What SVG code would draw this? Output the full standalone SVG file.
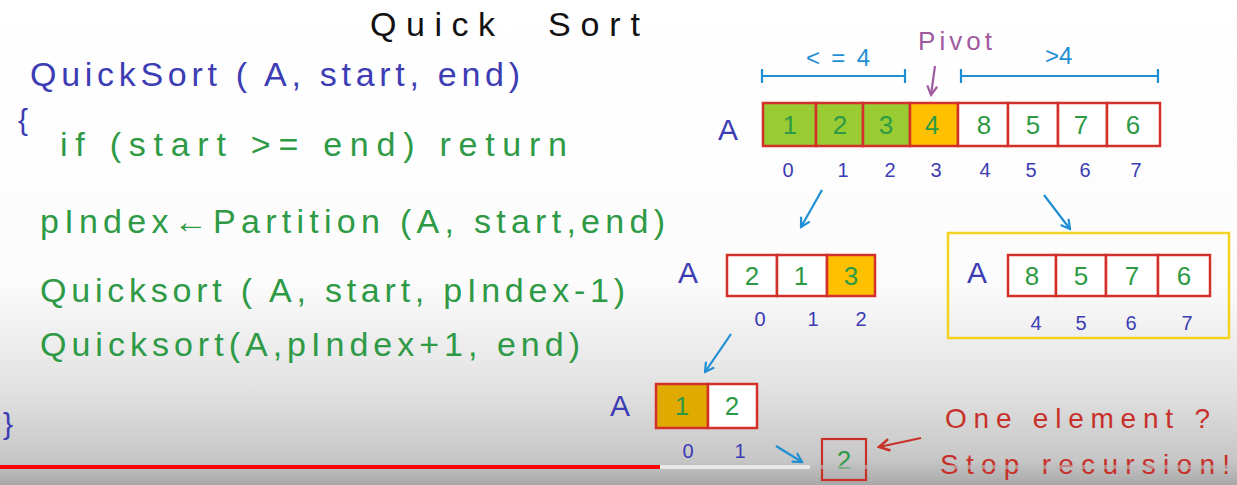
<svg xmlns="http://www.w3.org/2000/svg" width="1237" height="485" viewBox="0 0 1237 485">
<defs>
<linearGradient id="bg" x1="0" y1="0" x2="0" y2="1">
<stop offset="0" stop-color="#ffffff"/>
<stop offset="0.58" stop-color="#fcfcfc"/>
<stop offset="0.8" stop-color="#e2e2e2"/>
<stop offset="0.95" stop-color="#c6c6c6"/>
<stop offset="1" stop-color="#a8a8a8"/>
</linearGradient>
<marker id="hb" viewBox="0 0 12 12" refX="10" refY="6" markerWidth="12" markerHeight="12" markerUnits="userSpaceOnUse" orient="auto"><path d="M1,1 L10,6 L1,11" fill="none" stroke="#1f8fd4" stroke-width="2.2"/></marker>
<marker id="hp" viewBox="0 0 12 12" refX="10" refY="6" markerWidth="12" markerHeight="12" markerUnits="userSpaceOnUse" orient="auto"><path d="M1,1 L10,6 L1,11" fill="none" stroke="#a05aa0" stroke-width="2.2"/></marker>
<marker id="hr" viewBox="0 0 12 12" refX="10" refY="6" markerWidth="14" markerHeight="14" markerUnits="userSpaceOnUse" orient="auto"><path d="M1,1 L10,6 L1,11" fill="none" stroke="#c8302a" stroke-width="2.2"/></marker>
</defs>
<style>
text{font-family:"Liberation Sans","DejaVu Sans",sans-serif}
.code{font-size:34px;lengthAdjust:spacing}
.blue{fill:#3c3cb4}
.green{fill:#2e9a46}
.cell{stroke:#d4302a;stroke-width:2.5}
.w{fill:#ffffff}
.lime{fill:#99cc33}
.orng{fill:#ffc000}
.num{font-size:26px;fill:#2e9a46;text-anchor:middle}
.idx{font-size:20px;fill:#3c3cb4;text-anchor:middle}
.lblA{font-size:30px;fill:#3c3cb4}
.conn{stroke:#1f8fd4;stroke-width:2.2;fill:none}
.red{fill:#c8302a}
</style>
<rect x="0" y="0" width="1237" height="485" fill="url(#bg)"/>

<g id="title"><text x="370" y="36" font-size="34" fill="#111" textLength="125" lengthAdjust="spacing">Quick</text><text x="548" y="36" font-size="34" fill="#111" textLength="92" lengthAdjust="spacing">Sort</text></g>

<g id="code">
<text class="code blue" x="30" y="86" textLength="490" lengthAdjust="spacing">QuickSort ( A, start, end)</text>
<text class="blue" x="18" y="130" font-size="30">{</text>
<text class="code green" x="60" y="156" textLength="507" lengthAdjust="spacing">if (start &gt;= end) return</text>
<text class="code green" x="40" y="233" textLength="625" lengthAdjust="spacing">pIndex←Partition (A, start,end)</text>
<text class="code green" x="40" y="302" textLength="585" lengthAdjust="spacing">Quicksort ( A, start, pIndex-1)</text>
<text class="code green" x="40" y="356" textLength="540" lengthAdjust="spacing">Quicksort(A,pIndex+1, end)</text>
<text class="blue" x="3" y="434" font-size="30">}</text>
</g>

<g id="partition-labels">
<text x="806" y="66" font-size="24" fill="#1f8fd4" textLength="64" lengthAdjust="spacing">&lt;=4</text>
<text x="1045" y="64" font-size="24" fill="#1f8fd4">&gt;4</text>
<text x="918" y="50" font-size="26" fill="#a05aa0" textLength="74" lengthAdjust="spacing">Pivot</text>
</g>

<g id="array-top">
<text class="lblA" x="718" y="140">A</text>
<rect class="cell lime" x="763" y="103" width="53" height="43"/>
<rect class="cell lime" x="816" y="103" width="47" height="43"/>
<rect class="cell lime" x="863" y="103" width="47" height="43"/>
<rect class="cell orng" x="910" y="103" width="48" height="43"/>
<rect class="cell w" x="958" y="103" width="50" height="43"/>
<rect class="cell w" x="1008" y="103" width="50" height="43"/>
<rect class="cell w" x="1058" y="103" width="49" height="43"/>
<rect class="cell w" x="1107" y="103" width="53" height="43"/>
<text class="num" x="790" y="134">1</text><text class="num" x="840" y="134">2</text><text class="num" x="886" y="134">3</text><text class="num" x="932" y="134">4</text>
<text class="num" x="984" y="134">8</text><text class="num" x="1033" y="134">5</text><text class="num" x="1081" y="134">7</text><text class="num" x="1133" y="134">6</text>
<text class="idx" x="788" y="177">0</text><text class="idx" x="843" y="177">1</text><text class="idx" x="890" y="177">2</text><text class="idx" x="936" y="177">3</text>
<text class="idx" x="985" y="177">4</text><text class="idx" x="1031" y="177">5</text><text class="idx" x="1085" y="177">6</text><text class="idx" x="1136" y="177">7</text>
</g>

<g id="array-left">
<text class="lblA" x="678" y="283">A</text>
<rect class="cell w" x="727" y="255" width="50" height="41"/>
<rect class="cell w" x="777" y="255" width="50" height="41"/>
<rect class="cell orng" x="827" y="255" width="48" height="41"/>
<text class="num" x="752" y="285">2</text><text class="num" x="801" y="285">1</text><text class="num" x="851" y="285">3</text>
<text class="idx" x="760" y="326">0</text><text class="idx" x="813" y="326">1</text><text class="idx" x="861" y="326">2</text>
</g>

<g id="array-right">
<rect x="948" y="233" width="281" height="105" fill="none" stroke="#f2d21e" stroke-width="2.5"/>
<text class="lblA" x="967" y="283">A</text>
<rect class="cell w" x="1008" y="255" width="48" height="41"/>
<rect class="cell w" x="1056" y="255" width="50" height="41"/>
<rect class="cell w" x="1106" y="255" width="52" height="41"/>
<rect class="cell w" x="1158" y="255" width="52" height="41"/>
<text class="num" x="1032" y="285">8</text><text class="num" x="1081" y="285">5</text><text class="num" x="1132" y="285">7</text><text class="num" x="1184" y="285">6</text>
<text class="idx" x="1036" y="330">4</text><text class="idx" x="1081" y="330">5</text><text class="idx" x="1131" y="330">6</text><text class="idx" x="1187" y="330">7</text>
</g>

<g id="array-bottom">
<text class="lblA" x="610" y="416">A</text>
<rect class="cell" fill="#e0aa00" x="656" y="384" width="52" height="44"/>
<rect class="cell w" x="708" y="384" width="49" height="44"/>
<text class="num" x="682" y="415">1</text><text class="num" x="732" y="415">2</text>
<text class="idx" x="688" y="458">0</text><text class="idx" x="740" y="458">1</text>
</g>

<g id="single">
<rect x="822" y="439" width="44" height="41" fill="none" stroke="#c8302a" stroke-width="2.2"/>
<text class="num" x="844" y="469">2</text>
</g>

<g id="note">
<text class="red" x="945" y="428" font-size="28" textLength="265" lengthAdjust="spacing">One element ?</text>
<text class="red" x="940" y="474" font-size="28" textLength="290" lengthAdjust="spacing">Stop recursion!</text>
</g>

<g id="connectors">
<path class="conn" d="M762,69 V83 M762,76 H905 M905,69 V83"/>
<path class="conn" d="M961,69 V83 M961,76 H1158 M1158,69 V83"/>
<path d="M935,66 L931,95" stroke="#a05aa0" stroke-width="2.2" fill="none" marker-end="url(#hp)"/>
<path class="conn" d="M822,190 L801,227" marker-end="url(#hb)"/>
<path class="conn" d="M1044,195 L1070,229" marker-end="url(#hb)"/>
<path class="conn" d="M731,334 L705,372" marker-end="url(#hb)"/>
<path class="conn" d="M776,446 L802,462" marker-end="url(#hb)"/>
<path d="M921,438 L879,447" stroke="#c8302a" stroke-width="2.2" fill="none" marker-end="url(#hr)"/>
</g>

<g id="progress">
<rect x="0" y="465" width="660" height="4" fill="#f00"/>
<rect x="660" y="465" width="150" height="4" fill="#e8e8e8"/>
<rect x="810" y="465" width="427" height="4" fill="#bdbdbd" opacity="0.6"/>
</g>
</svg>
